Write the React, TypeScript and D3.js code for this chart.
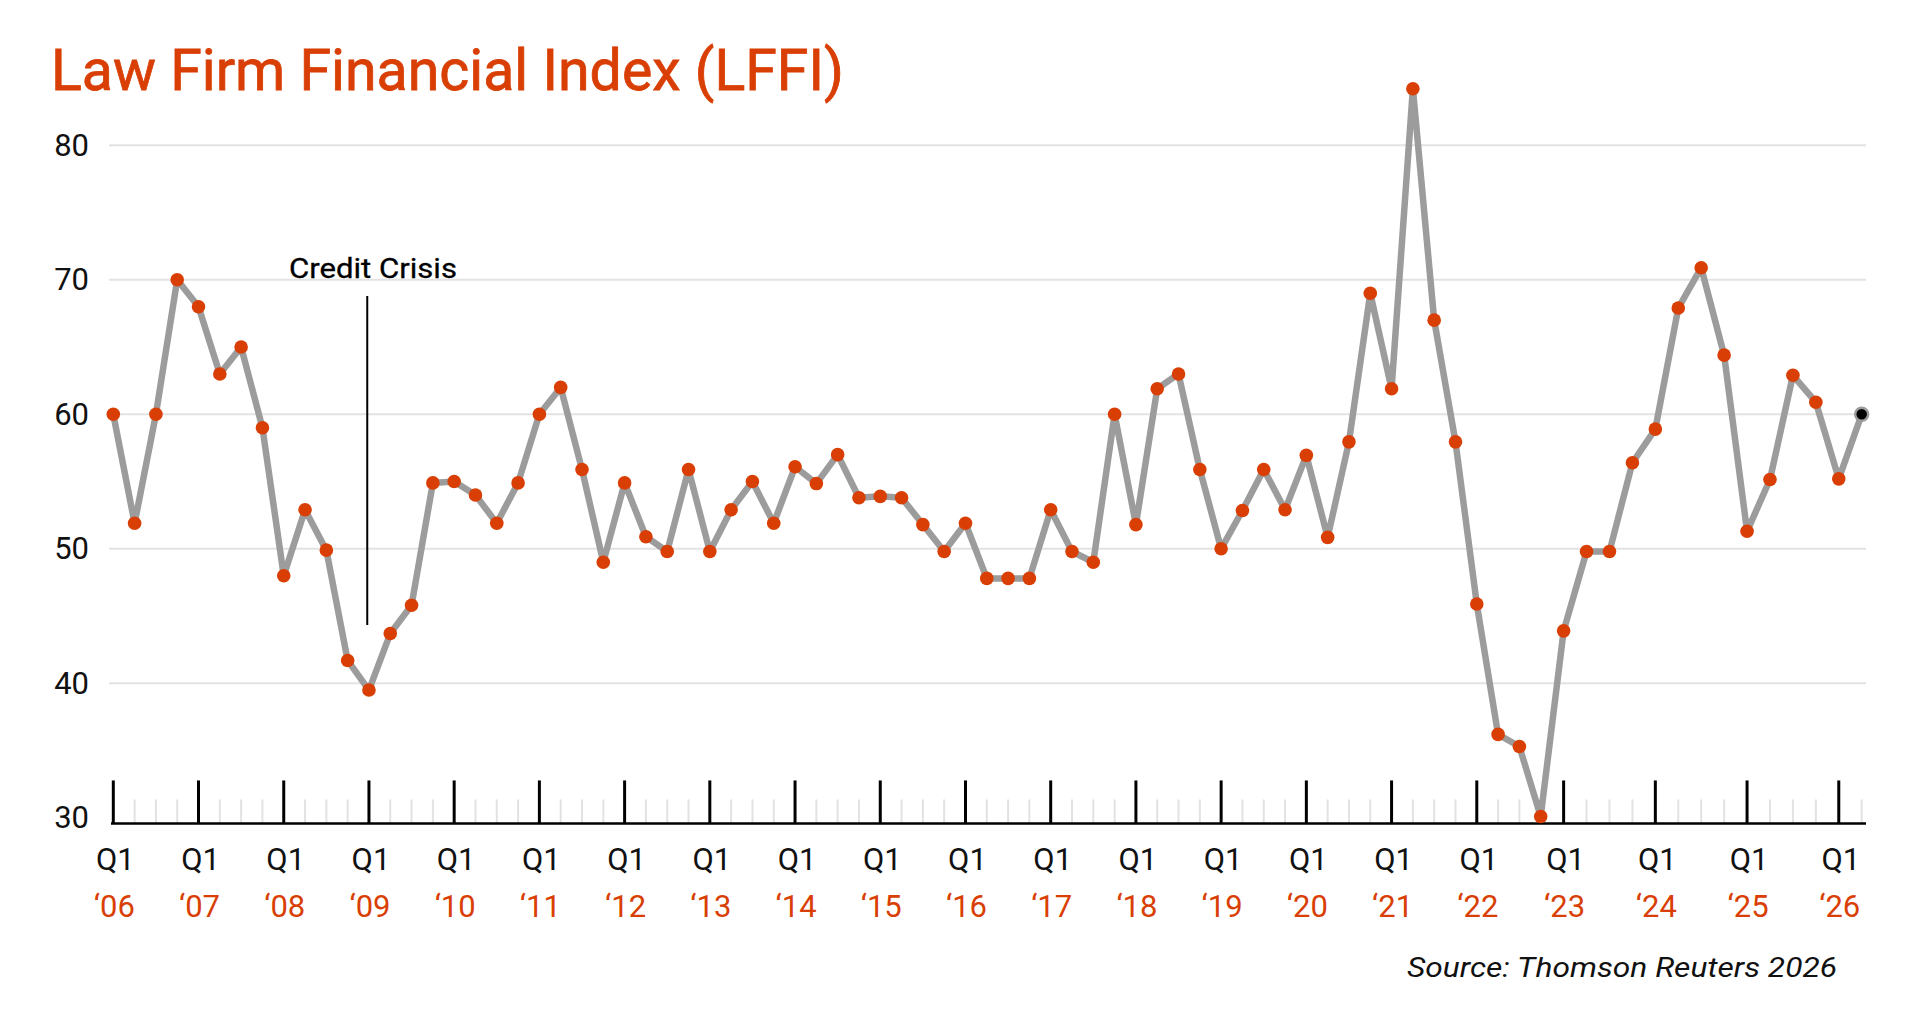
import React from "react";
import * as d3 from "d3";

const values: number[] = [
  60, 51.9, 60, 70, 68, 63, 65, 59, 48, 52.9, 49.9, 41.7, 39.5, 43.7, 45.8, 54.9,
  55, 54, 51.9, 54.9, 60, 62, 55.9, 49, 54.9, 50.9, 49.8, 55.9, 49.8, 52.9, 55, 51.9,
  56.1, 54.85, 57, 53.8, 53.9, 53.8, 51.8, 49.8, 51.9, 47.8, 47.8, 47.8, 52.9, 49.8, 49, 60,
  51.8, 61.9, 63, 55.9, 50, 52.85, 55.9, 52.9, 56.95, 50.85, 57.95, 69, 61.9, 84.2, 67, 57.95,
  45.9, 36.2, 35.3, 30.1, 43.9, 49.8, 49.8, 56.4, 58.9, 67.9, 70.9, 64.4, 51.3, 55.15, 62.9, 60.9,
  55.2, 60,
];

const years: string[] = [
  "06", "07", "08", "09", "10", "11", "12", "13", "14", "15", "16", "17", "18", "19", "20",
  "21", "22", "23", "24", "25", "26",
];

const yTicks: number[] = [30, 40, 50, 60, 70, 80];

const annotation = { label: "Credit Crisis", index: 12 };

const RED = "#d93f05";
const FONT = "Roboto, 'Liberation Sans', Arial, sans-serif";

export default function App() {
  const W = 1920;
  const H = 1036;
  const n = values.length;
  const x = d3
    .scaleLinear()
    .domain([0, 67, n - 1])
    .range([113.3, 1540.7, 1861.7]);
  const y = d3.scaleLinear().domain([30, 80]).range([817.8, 145.3]);
  const axisY = y(29.58);
  const gridLeft = 109;
  const gridRight = 1866;

  const line = d3
    .line<number>()
    .x((_, i) => x(i))
    .y((d) => y(d));

  const majorIdx = years.map((_, k) => k * 4);
  const minorIdx = d3.range(n).filter((i) => i % 4 !== 0);

  return (
    <svg
      width={W}
      height={H}
      style={{ position: "absolute", left: 0, top: 0, background: "#fff" }}
      fontFamily={FONT}
    >
      <rect x={0} y={0} width={W} height={H} fill="#fff" />
      <text
        x={51}
        y={90}
        fill={RED}
        stroke={RED}
        strokeWidth={0.8}
        fontSize={57}
        textLength={793}
        lengthAdjust="spacingAndGlyphs"
      >
        Law Firm Financial Index (LFFI)
      </text>

      {/* gridlines */}
      {yTicks
        .filter((t) => t > 30)
        .map((t) => (
          <line
            key={"g" + t}
            x1={gridLeft}
            x2={gridRight}
            y1={y(t)}
            y2={y(t)}
            stroke="#e3e3e3"
            strokeWidth={2}
          />
        ))}
      {yTicks.map((t) => (
        <text
          key={"yl" + t}
          x={89}
          y={y(t)}
          textAnchor="end"
          dominantBaseline="central"
          fontSize={31}
          fill="#111"
        >
          {t}
        </text>
      ))}

      {/* minor ticks */}
      {minorIdx.map((i) => (
        <line
          key={"mi" + i}
          x1={x(i)}
          x2={x(i)}
          y1={axisY}
          y2={axisY - 24}
          stroke="#e2e2e2"
          strokeWidth={2}
        />
      ))}
      {/* major ticks */}
      {majorIdx.map((i) => (
        <line
          key={"ma" + i}
          x1={x(i)}
          x2={x(i)}
          y1={axisY}
          y2={axisY - 43}
          stroke="#000"
          strokeWidth={3}
        />
      ))}
      <line x1={111} x2={gridRight} y1={axisY} y2={axisY} stroke="#000" strokeWidth={2.5} />

      {/* x labels */}
      {majorIdx.map((i, k) => (
        <g key={"xl" + i}>
          <text x={x(i) + 2} y={870} textAnchor="middle" fontSize={31} fill="#111">
            Q1
          </text>
          <text x={x(i) + 1} y={917} textAnchor="middle" fontSize={31} fill={RED}>
            {"\u2018" + years[k]}
          </text>
        </g>
      ))}

      {/* annotation */}
      <line
        x1={x(annotation.index) - 1.7}
        x2={x(annotation.index) - 1.7}
        y1={296}
        y2={625}
        stroke="#000"
        strokeWidth={2}
      />
      <text
        x={x(annotation.index) + 4}
        y={278}
        textAnchor="middle"
        fontSize={28}
        fill="#000"
        stroke="#000"
        strokeWidth={0.3}
        textLength={168}
        lengthAdjust="spacingAndGlyphs"
      >
        {annotation.label}
      </text>

      {/* line */}
      <path
        d={line(values) || ""}
        fill="none"
        stroke="#9c9c9c"
        strokeWidth={6.5}
        strokeLinejoin="round"
        strokeLinecap="round"
      />
      {values.map((v, i) =>
        i === n - 1 ? (
          <circle key={"c" + i} cx={x(i)} cy={y(v)} r={6.5} fill="#000" stroke="#9c9c9c" strokeWidth={2.5} />
        ) : (
          <circle key={"c" + i} cx={x(i)} cy={y(v)} r={6.8} fill={RED} />
        )
      )}

      <text
        x={1837}
        y={977}
        textAnchor="end"
        fontSize={28}
        fontStyle="italic"
        fill="#111"
        textLength={430}
        lengthAdjust="spacingAndGlyphs"
      >
        Source: Thomson Reuters 2026
      </text>
    </svg>
  );
}
